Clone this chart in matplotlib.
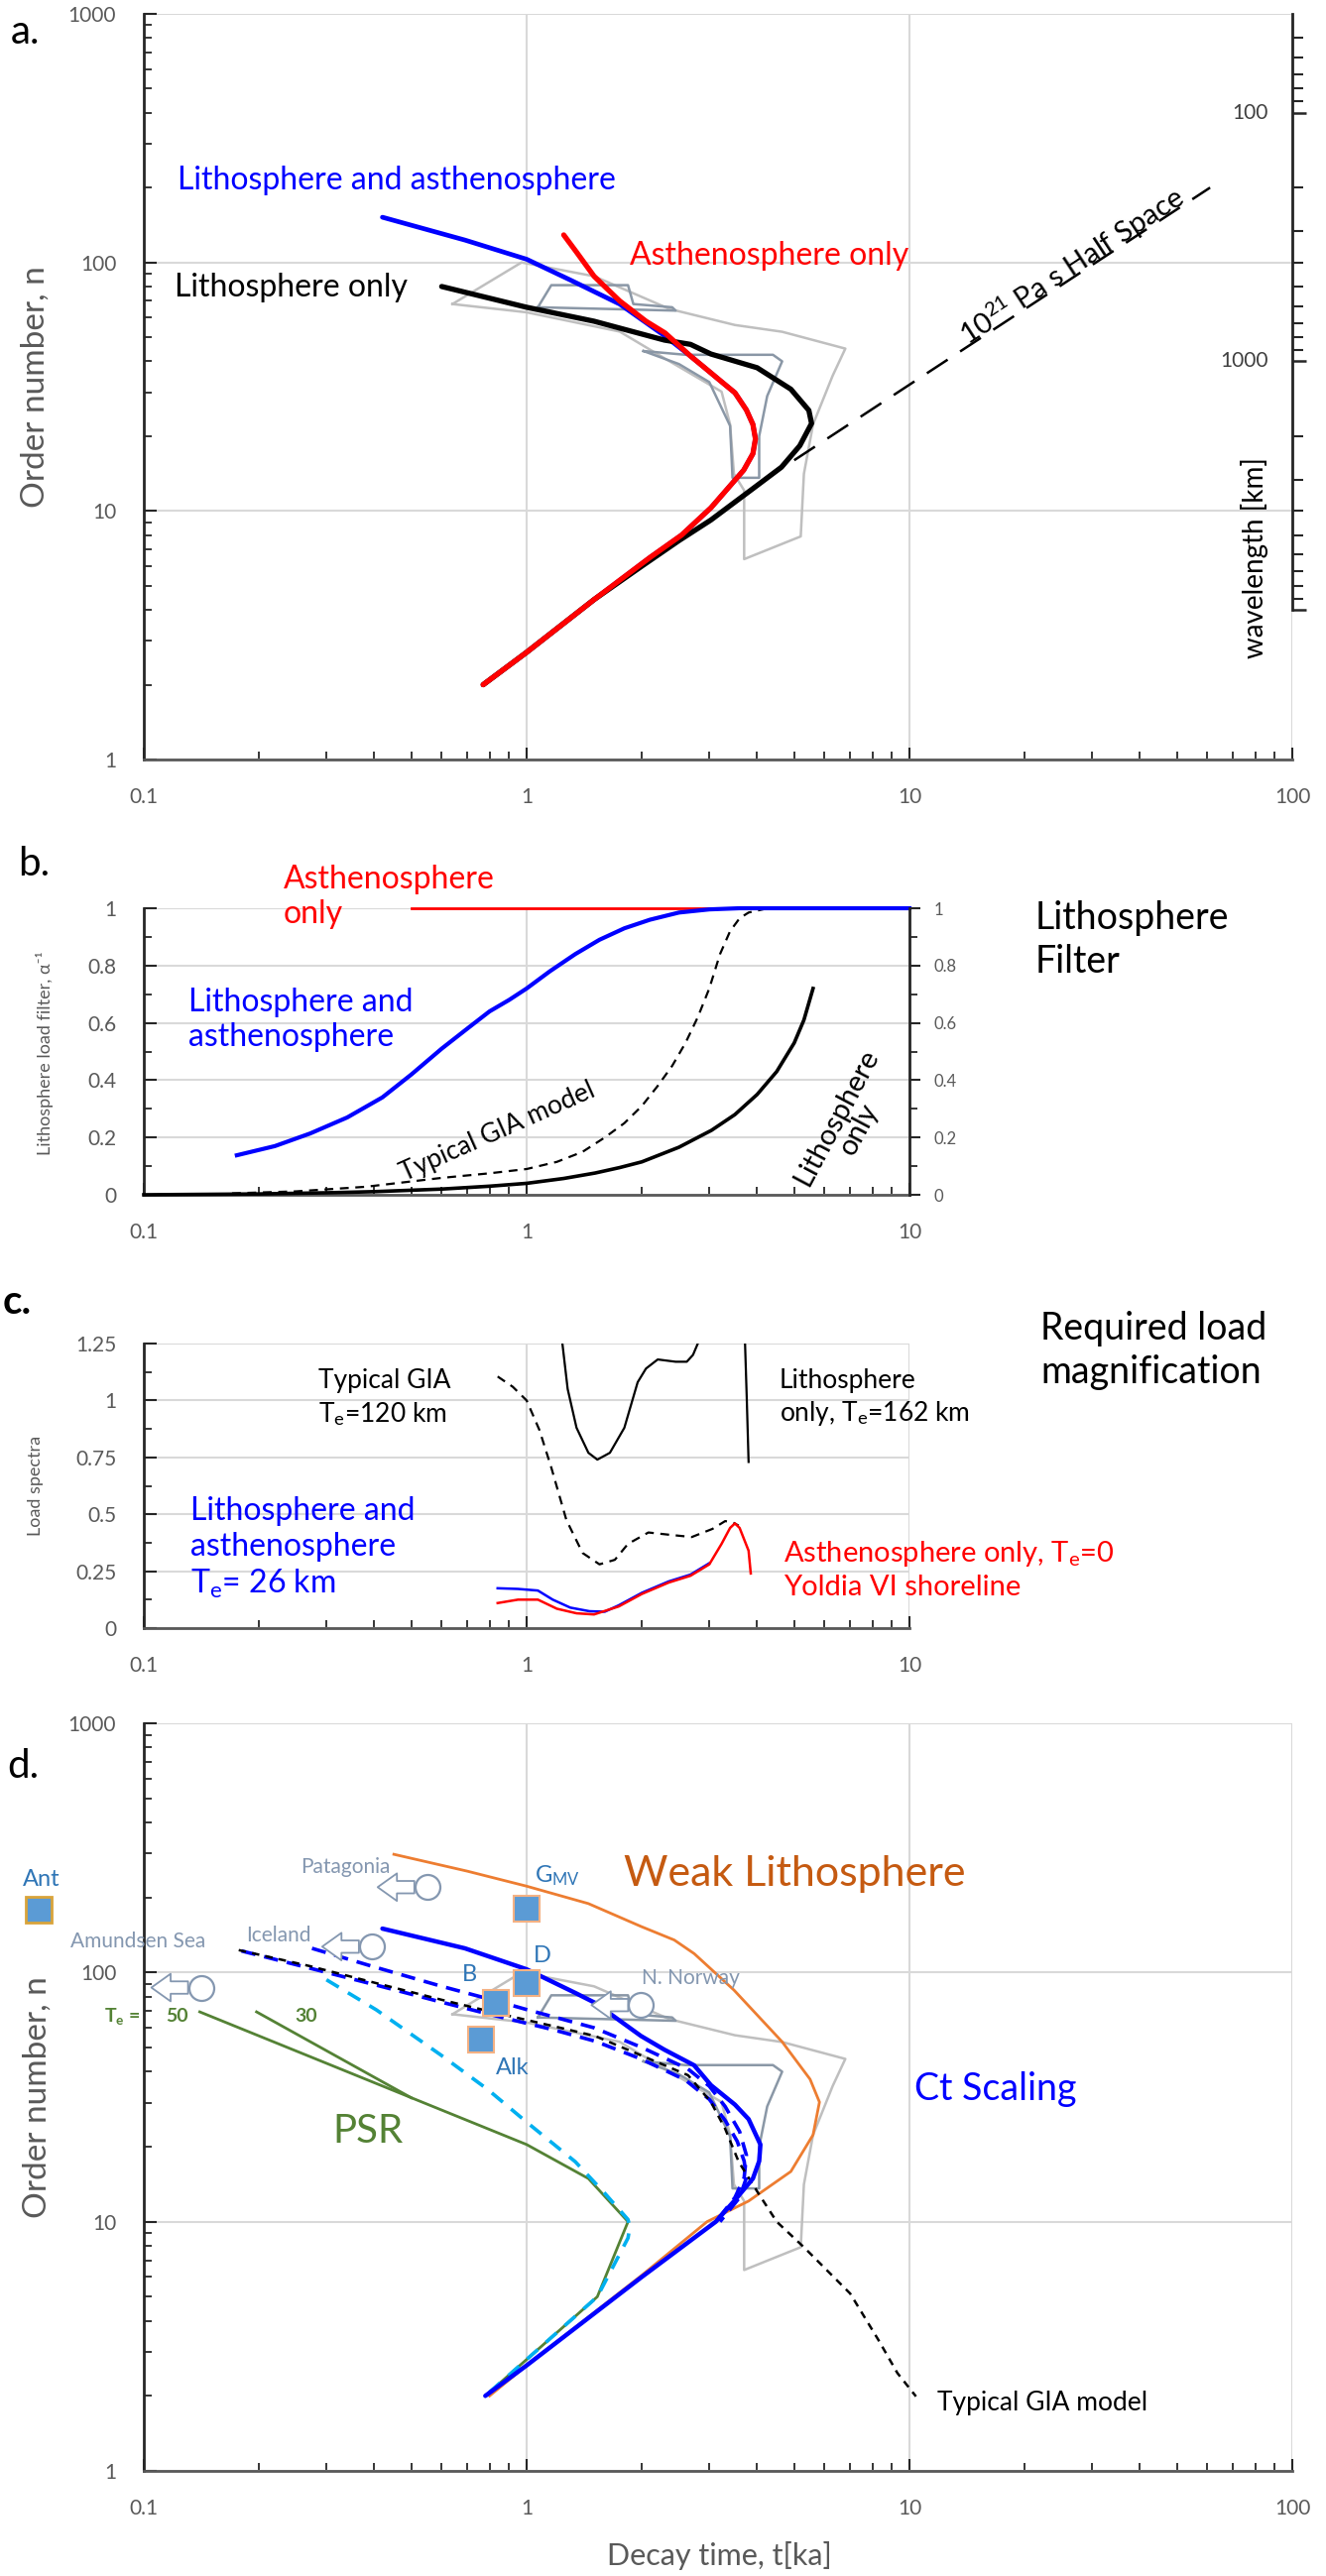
#!/usr/bin/env python3
import matplotlib
matplotlib.use('Agg')
import matplotlib.pyplot as plt
import matplotlib.ticker as mticker
from matplotlib.transforms import blended_transform_factory, offset_copy
import numpy as np

plt.rcParams['font.family'] = ['Lato', 'DejaVu Sans']
plt.rcParams['mathtext.fontset'] = 'custom'
plt.rcParams['mathtext.rm'] = 'Lato'
plt.rcParams['mathtext.it'] = 'Lato:italic'
plt.rcParams['mathtext.bf'] = 'Lato:bold'

BLUE = '#0000ff'
RED = '#ff0000'
LIGHT_GREY = '#bfbfbf'
DARK_GREY = '#8a97a6'
GRID = '#d9d9d9'
TICK_TXT = '#595959'
AXIS = '#262626'
ORANGE = '#ed7d31'
ORANGE_TXT = '#c55a11'
GREEN = '#548235'
CYAN = '#00b0f0'
SQ_FILL = '#5b9bd5'
SQ_EDGE = '#f4b183'
SITE_TXT = '#2e75b6'
OBS = '#8497b0'

EARTH_CIRC = 40030.0  # km, wavelength ~ circumference / n

# ---------------- data: panel a (decay time [ka] vs order number n)
env_light_t = [0.64, 0.97, 1.5, 2.36, 3.5, 4.65, 6.8, 6.3, 5.6, 5.3, 5.2, 3.7, 3.7, 3.48, 3.4, 3.23, 2.3, 1.75, 1.0, 0.64]
env_light_n = [68, 100, 88, 65, 56, 52.6, 45, 35, 22.3, 14.1, 7.9, 6.4, 12.1, 14.1, 22.3, 30.2, 41, 52.7, 63, 68]
env_dark1_t = [1.07, 1.16, 1.84, 1.9, 2.4, 2.45, 1.07]
env_dark1_n = [66, 81, 81, 68, 66, 64, 66]
env_dark2_t = [2.02, 2.6, 4.4, 4.65, 4.25, 4.05, 4.05, 3.45, 3.4, 3.0, 2.5, 2.02]
env_dark2_n = [44, 42.5, 42.5, 40, 29, 20, 13.6, 13.6, 22, 33, 39, 44]

la_a_t = [0.42, 0.69, 1.0, 1.3, 1.75, 2.28, 2.68, 2.9, 3.2, 3.5, 3.75, 3.9, 3.96, 3.9, 3.69, 3.35, 3.03, 2.54, 2.1, 1.5, 1.0, 0.77]
la_a_n = [152, 123, 103, 85, 68, 51, 42, 38, 33.5, 29.9, 25.5, 22.3, 19.5, 17, 14.6, 12.3, 10.3, 8.0, 6.5, 4.4, 2.7, 2.0]
asth_a_t = [1.25, 1.35, 1.5, 1.75, 2.05, 2.3, 2.68, 2.9, 3.2, 3.5, 3.75, 3.9, 3.96, 3.9, 3.69, 3.35, 3.03, 2.54, 2.1, 1.5, 1.0, 0.77]
asth_a_n = [129, 110, 88, 70, 58, 52, 42, 38, 33.5, 29.9, 25.5, 22.3, 19.5, 17, 14.6, 12.3, 10.3, 8.0, 6.5, 4.4, 2.7, 2.0]
litho_a_t = [0.6, 1.0, 1.5, 2.29, 2.68, 3.03, 4.0, 4.9, 5.46, 5.55, 5.17, 4.63, 3.9, 3.03, 2.5, 2.0, 1.5, 1.0, 0.77]
litho_a_n = [80, 66, 58, 48.7, 46.8, 42.8, 37.7, 30.9, 25.4, 22.5, 18.3, 15, 12.3, 9.2, 7.6, 6.0, 4.4, 2.7, 2.0]
half_space_t = [5.0, 61]
half_space_n = [16, 200]

wl_major = [100, 1000, 10000]
wl_minor = [40, 50, 60, 70, 80, 90, 200, 300, 400, 500, 600, 700, 800, 900,
            2000, 3000, 4000, 5000, 6000, 7000, 8000, 9000]
wl_labels = [100, 1000]

# ---------------- data: panel b (lithosphere load filter)
asth_b_t = [0.5, 10]
asth_b_a = [1.0, 1.0]
la_b_t = [0.175, 0.22, 0.272, 0.34, 0.42, 0.5, 0.6, 0.7, 0.8, 0.9, 1.0, 1.15, 1.34, 1.55, 1.8, 2.1, 2.5, 3.0, 3.6, 10]
la_b_a = [0.138, 0.17, 0.214, 0.27, 0.34, 0.42, 0.51, 0.58, 0.64, 0.68, 0.72, 0.78, 0.84, 0.89, 0.93, 0.96, 0.985, 0.996, 1.0, 1.0]
gia_b_t = [0.17, 0.25, 0.38, 0.6, 0.8, 1.0, 1.2, 1.4, 1.6, 1.8, 2.0, 2.2, 2.4, 2.6, 2.8, 3.0, 3.2, 3.4, 3.6, 3.8, 4.2, 4.6]
gia_b_a = [0.005, 0.012, 0.028, 0.059, 0.075, 0.09, 0.115, 0.15, 0.2, 0.25, 0.31, 0.38, 0.45, 0.53, 0.62, 0.72, 0.84, 0.92, 0.965, 0.985, 0.998, 1.0]
litho_b_t = [0.1, 0.2, 0.3, 0.4, 0.6, 0.8, 1.0, 1.25, 1.51, 1.75, 2.0, 2.5, 3.04, 3.5, 4.0, 4.5, 5.0, 5.3, 5.6]
litho_b_a = [0.0, 0.003, 0.007, 0.011, 0.02, 0.03, 0.04, 0.057, 0.076, 0.095, 0.115, 0.166, 0.225, 0.28, 0.35, 0.43, 0.53, 0.61, 0.72]

# ---------------- data: panel c (load spectra)
litho_c1_t = [1.24, 1.28, 1.35, 1.45, 1.53, 1.65, 1.8, 1.95, 2.05, 2.2, 2.45, 2.62, 2.72, 2.8]
litho_c1_s = [1.25, 1.05, 0.88, 0.77, 0.74, 0.77, 0.88, 1.08, 1.14, 1.18, 1.17, 1.17, 1.2, 1.25]
litho_c2_t = [3.72, 3.76, 3.8]
litho_c2_s = [1.25, 1.0, 0.73]
gia_c_t = [0.84, 0.92, 1.0, 1.08, 1.16, 1.27, 1.4, 1.55, 1.7, 1.84, 2.08, 2.36, 2.7, 3.06, 3.3, 3.45, 3.58]
gia_c_s = [1.105, 1.06, 1.0, 0.87, 0.705, 0.475, 0.33, 0.28, 0.30, 0.37, 0.42, 0.41, 0.40, 0.436, 0.47, 0.465, 0.45]
asth_c_t = [0.84, 0.95, 1.07, 1.2, 1.35, 1.5, 1.74, 2.0, 2.35, 2.68, 3.0, 3.23, 3.4, 3.5, 3.6, 3.8, 3.85]
asth_c_s = [0.11, 0.125, 0.125, 0.085, 0.065, 0.06, 0.095, 0.15, 0.2, 0.23, 0.28, 0.37, 0.44, 0.46, 0.44, 0.34, 0.24]
la_c_t = [0.84, 0.95, 1.07, 1.17, 1.3, 1.46, 1.6, 1.74, 2.0, 2.35, 2.68, 3.0]
la_c_s = [0.175, 0.172, 0.165, 0.125, 0.09, 0.074, 0.072, 0.1, 0.155, 0.205, 0.235, 0.285]

# ---------------- data: panel d
weak_t = [0.45, 0.7, 1.0, 1.45, 1.99, 2.43, 2.74, 3.48, 4.65, 5.5, 5.82, 5.6, 4.9, 3.8, 2.96, 2.0, 1.0, 0.8]
weak_n = [298, 255, 222, 189, 153, 135, 119, 85, 52.7, 37.3, 30.2, 22.3, 15.9, 12.1, 10, 6.1, 2.65, 2.0]
ct_t = [0.42, 0.69, 1.0, 1.34, 1.51, 1.99, 2.29, 2.74, 3.03, 3.5, 3.8, 4.08, 4.05, 3.9, 3.5, 3.12, 1.99, 1.0, 0.78]
ct_n = [150, 125, 103, 82.8, 75.5, 55.6, 49, 42.4, 35.3, 29.5, 25.8, 20.4, 17.5, 14.9, 12.2, 10, 5.97, 2.65, 2.0]
ct_dash1_t = [0.275, 0.394, 0.6, 0.83, 1.0, 1.5, 2.0, 2.64, 3.0, 3.3, 3.6, 3.75, 3.7, 3.5, 3.12]
ct_dash1_n = [125, 106, 88, 77, 71, 60, 50, 41, 35, 29, 23, 18.5, 15, 12.5, 10]
ct_dash2_t = [0.18, 0.272, 0.405, 0.6, 0.83, 1.17, 1.51, 1.99, 2.6, 3.0, 3.3, 3.55, 3.7, 3.75, 3.6, 3.2]
ct_dash2_n = [122, 104, 89, 76, 67, 59, 53, 45, 37, 31, 25.5, 21, 17.5, 15, 12.5, 10]
gia_d_t = [0.177, 0.272, 0.405, 0.6, 0.83, 1.17, 1.51, 1.99, 2.64, 3.03, 3.3, 3.58, 4.03, 4.5, 5.3, 7.0, 8.3, 9.3, 10.4]
gia_d_n = [123, 106, 90.6, 77.7, 68.9, 61, 55.6, 46.5, 38.7, 30.2, 23.6, 17.4, 13, 10, 7.9, 5.15, 3.35, 2.47, 1.99]
psr_cyan_t = [0.30, 0.405, 0.60, 0.79, 1.0, 1.34, 1.6, 1.84, 1.86, 1.84, 1.53, 1.0, 0.78]
psr_cyan_n = [93.5, 70.8, 46.4, 34, 25.1, 17.4, 13, 10.2, 9.5, 8.6, 5.0, 2.8, 2.0]
psr50_t = [0.14, 1.0, 1.45, 1.84, 1.53, 1.0, 0.78]
psr50_n = [69.5, 20.4, 14.9, 10, 5.0, 2.8, 2.0]
psr30_t = [0.197, 0.5]
psr30_n = [69.5, 31.4]

site_names = ['G$_\\mathrm{MV}$', 'D', 'B', 'Alk']
site_t = [1.0, 1.0, 0.83, 0.76]
site_n = [180, 90.6, 75.5, 53.8]
site_label_t = [1.2, 1.1, 0.71, 0.92]
site_label_n = [244, 117, 98, 41.6]
ant_t, ant_n = 0.053, 178
ant_label_t, ant_label_n = 0.054, 237

obs_names = ['Patagonia', 'Iceland', 'Amundsen Sea', 'N. Norway']
obs_t = [0.55, 0.394, 0.141, 1.99]
obs_n = [220, 127, 87, 74]
obs_label_t = [0.336, 0.225, 0.0965, 2.68]
obs_label_n = [265, 141, 133, 95]

# ---------------- figure layout (pixels of the 1337 x 2598 canvas)
W, H = 1337.0, 2598.0
fig = plt.figure(figsize=(W / 100, H / 100), dpi=100)


def px_rect(x0, y0, x1, y1):
    return [x0 / W, 1 - y1 / H, (x1 - x0) / W, (y1 - y0) / H]


def fig_text(x, y, s, **kw):
    return fig.text(x / W, 1 - y / H, s, **kw)


g = lambda v, p: f'{v:g}'


def base_axes(ax, xmax, ylim, log_y, ymajor=None, yminor=None):
    ax.set_xscale('log')
    ax.set_xlim(0.1, xmax)
    ax.xaxis.set_major_locator(mticker.LogLocator(base=10, numticks=10))
    ax.xaxis.set_minor_locator(mticker.LogLocator(base=10, subs=np.arange(2, 10), numticks=30))
    ax.xaxis.set_major_formatter(mticker.FuncFormatter(g))
    ax.xaxis.set_minor_formatter(mticker.NullFormatter())
    if log_y:
        ax.set_yscale('log')
        ax.yaxis.set_major_locator(mticker.LogLocator(base=10, numticks=10))
        ax.yaxis.set_minor_locator(mticker.LogLocator(base=10, subs=np.arange(2, 10), numticks=30))
        ax.yaxis.set_minor_formatter(mticker.NullFormatter())
    else:
        ax.yaxis.set_major_locator(mticker.MultipleLocator(ymajor))
        ax.yaxis.set_minor_locator(mticker.MultipleLocator(yminor))
    ax.yaxis.set_major_formatter(mticker.FuncFormatter(g))
    ax.set_ylim(*ylim)
    for s in ('top', 'right'):
        ax.spines[s].set_visible(False)
    ax.spines['left'].set_color(AXIS)
    ax.spines['left'].set_linewidth(2)
    ax.spines['bottom'].set_color('#595959')
    ax.spines['bottom'].set_linewidth(2)
    ax.tick_params(which='both', direction='in', colors=AXIS, labelcolor=TICK_TXT,
                   labelsize=15, pad=20, top=False, right=False)
    ax.tick_params(which='major', length=9, width=1.5)
    ax.tick_params(which='minor', length=6, width=1.3)
    ax.grid(True, which='major', color=GRID, lw=1.5)
    ax.set_axisbelow(True)


ax_a = fig.add_axes(px_rect(145, 14, 1303, 766))
ax_b = fig.add_axes(px_rect(145, 916, 917, 1205))
ax_c = fig.add_axes(px_rect(145, 1355, 917, 1642))
ax_d = fig.add_axes(px_rect(145, 1738, 1303, 2492))

# ================= panel a
ax = ax_a
base_axes(ax, 100, (1, 1000), True)
for t, n, c in ((env_light_t, env_light_n, LIGHT_GREY), (env_dark1_t, env_dark1_n, DARK_GREY),
                (env_dark2_t, env_dark2_n, DARK_GREY)):
    ax.plot(t, n, color=c, lw=1.8, zorder=2)
ax.plot(la_a_t, la_a_n, color=BLUE, lw=3.4, zorder=3, solid_capstyle='round')
ax.plot(litho_a_t, litho_a_n, color='black', lw=3.8, zorder=3, solid_capstyle='round')
ax.plot(asth_a_t, asth_a_n, color=RED, lw=3.8, zorder=4, solid_capstyle='round')
ax.plot(half_space_t, half_space_n, color='black', lw=1.8, ls=(0, (10, 6)), zorder=3)

p0, p1 = ax.transData.transform([(half_space_t[0], half_space_n[0]), (half_space_t[-1], half_space_n[-1])])
hs_angle = np.degrees(np.arctan2(p1[1] - p0[1], p1[0] - p0[0]))
ax.text(14.2, 46, '10$^{21}$ Pa s Half Space', rotation=hs_angle, rotation_mode='anchor',
        ha='left', va='baseline', fontsize=21, color='black')

ax.text(0.1225, 214, 'Lithosphere and asthenosphere', color=BLUE, fontsize=23, va='center')
ax.text(0.12, 79, 'Lithosphere only', color='black', fontsize=23, va='center')
ax.text(1.86, 106, 'Asthenosphere only', color=RED, fontsize=23, va='center')

# wavelength axis on the right
ax_w = ax_a.twinx()
ax_w.set_yscale('log')
ax_w.set_ylim(EARTH_CIRC / 1.0, EARTH_CIRC / 1000.0)
for s in ('top', 'bottom', 'left'):
    ax_w.spines[s].set_visible(False)
ax_w.spines['right'].set_bounds(EARTH_CIRC / 1000.0, wl_major[-1])
ax_w.spines['right'].set_linewidth(2)
ax_w.spines['right'].set_color(AXIS)
ax_w.yaxis.set_major_locator(mticker.FixedLocator(wl_major))
ax_w.yaxis.set_minor_locator(mticker.FixedLocator(wl_minor))
ax_w.yaxis.set_major_formatter(mticker.NullFormatter())
ax_w.yaxis.set_minor_formatter(mticker.NullFormatter())
ax_w.tick_params(axis='y', which='both', direction='out', right=True, left=False,
                 labelright=False, colors=AXIS)
ax_w.tick_params(axis='y', which='major', length=10, width=1.8)
ax_w.tick_params(axis='y', which='minor', length=8, width=1.5)
tr_w = blended_transform_factory(ax_w.transAxes, ax_w.transData)
for wl in wl_labels:
    ax_w.text(0.979, wl, f'{wl:g}', transform=tr_w, ha='right', va='center',
              fontsize=15, color='#404040')
ax_w.text(0.967, 6200, 'wavelength [km]', transform=tr_w, rotation=90, ha='center',
          va='center', fontsize=20, color='black')

# ================= panel b
ax = ax_b
base_axes(ax, 10, (0, 1), False, 0.2, 0.1)
ax.plot(asth_b_t, asth_b_a, color=RED, lw=2, zorder=3, clip_on=False)
ax.plot(gia_b_t, gia_b_a, color='black', lw=1.6, ls=(0, (4, 3)), zorder=3, clip_on=False)
ax.plot(litho_b_t, litho_b_a, color='black', lw=2.6, zorder=3, clip_on=False)
ax.plot(la_b_t, la_b_a, color=BLUE, lw=3, zorder=4, clip_on=False)
ax.text(0.232, 1.04, 'Asthenosphere\nonly', color=RED, fontsize=23, va='center', linespacing=1.2)
ax.text(0.131, 0.61, 'Lithosphere and\nasthenosphere', color=BLUE, fontsize=23, va='center',
        linespacing=1.2)
ax.text(0.84, 0.22, 'Typical GIA model', rotation=24, ha='center', va='center', fontsize=19)
ax.text(6.9, 0.25, 'Lithosphere\nonly', rotation=62, ha='center', va='center', fontsize=21,
        linespacing=1.0)

ax_b2 = ax_b.twinx()
ax_b2.set_ylim(0, 1)
for s in ('top', 'bottom', 'left'):
    ax_b2.spines[s].set_visible(False)
ax_b2.spines['right'].set_linewidth(2)
ax_b2.spines['right'].set_color(AXIS)
ax_b2.yaxis.set_major_locator(mticker.MultipleLocator(0.2))
ax_b2.yaxis.set_minor_locator(mticker.MultipleLocator(0.1))
ax_b2.yaxis.set_major_formatter(mticker.FuncFormatter(g))
ax_b2.tick_params(axis='y', which='both', direction='out', colors=AXIS, labelcolor=TICK_TXT,
                  labelsize=12, pad=10)
ax_b2.tick_params(axis='y', which='major', length=8, width=1.5)
ax_b2.tick_params(axis='y', which='minor', length=6, width=1.3)

# ================= panel c
ax = ax_c
base_axes(ax, 10, (0, 1.25), False, 0.25, 0.125)
ax.plot(gia_c_t, gia_c_s, color='black', lw=1.6, ls=(0, (4, 3)), zorder=3)
ax.plot(litho_c1_t, litho_c1_s, color='black', lw=1.6, zorder=3)
ax.plot(litho_c2_t, litho_c2_s, color='black', lw=1.6, zorder=3)
ax.plot(la_c_t, la_c_s, color=BLUE, lw=1.8, zorder=3)
ax.plot(asth_c_t, asth_c_s, color=RED, lw=1.8, zorder=4)
ax.text(0.286, 1.01, 'Typical GIA\nT$_\\mathrm{e}$=120 km', fontsize=19, va='center',
        linespacing=1.3)
ax.text(4.58, 1.01, 'Lithosphere\nonly, T$_\\mathrm{e}$=162 km', fontsize=19, va='center',
        linespacing=1.3)
ax.text(0.132, 0.35, 'Lithosphere and\nasthenosphere\nT$_\\mathrm{e}$= 26 km', color=BLUE,
        fontsize=23, va='center', linespacing=1.25)
ax.text(4.69, 0.257, 'Asthenosphere only, T$_\\mathrm{e}$=0\nYoldia VI shoreline', color=RED,
        fontsize=21, va='center', linespacing=1.3)

# ================= panel d
ax = ax_d
base_axes(ax, 100, (1, 1000), True)
for t, n, c in ((env_light_t, env_light_n, LIGHT_GREY), (env_dark1_t, env_dark1_n, DARK_GREY),
                (env_dark2_t, env_dark2_n, DARK_GREY)):
    ax.plot(t, n, color=c, lw=1.8, zorder=2)
ax.plot(psr50_t, psr50_n, color=GREEN, lw=2, zorder=3)
ax.plot(psr30_t, psr30_n, color=GREEN, lw=2, zorder=3)
ax.plot(psr_cyan_t, psr_cyan_n, color=CYAN, lw=2.6, ls=(0, (4, 3)), zorder=3)
ax.plot(weak_t, weak_n, color=ORANGE, lw=2, zorder=3)
ax.plot(ct_dash1_t, ct_dash1_n, color=BLUE, lw=2.6, ls=(0, (4, 2.5)), zorder=3)
ax.plot(ct_dash2_t, ct_dash2_n, color=BLUE, lw=2.6, ls=(0, (4, 2.5)), zorder=3)
ax.plot(gia_d_t, gia_d_n, color='black', lw=1.8, ls=(0, (3, 2.5)), zorder=4)
ax.plot(ct_t, ct_n, color=BLUE, lw=3.2, zorder=4, solid_capstyle='round')

for name, t, n, lt, ln in zip(obs_names, obs_t, obs_n, obs_label_t, obs_label_n):
    tip = offset_copy(ax.transData, fig=fig, x=-50, y=0, units='dots')
    tail = offset_copy(ax.transData, fig=fig, x=-13, y=0, units='dots')
    ax.annotate('', xy=(t, n), xycoords=tip, xytext=(t, n), textcoords=tail,
                arrowprops=dict(arrowstyle='simple,head_length=0.7,head_width=1.0,tail_width=0.45',
                                fc='white', ec=OBS, lw=1.3, mutation_scale=20,
                                shrinkA=0, shrinkB=0), zorder=5)
    ax.plot(t, n, 'o', ms=18, mfc='white', mec=OBS, mew=1.6, zorder=5, clip_on=False)
    ax.text(lt, ln, name, color=OBS, fontsize=15, ha='center', va='center')

ax.plot(site_t, site_n, 's', ms=19, mfc=SQ_FILL, mec=SQ_EDGE, mew=1.5, ls='none', zorder=6)
for name, lt, ln in zip(site_names, site_label_t, site_label_n):
    ax.text(lt, ln, name, color=SITE_TXT, fontsize=17, ha='center', va='center')
ax.plot(ant_t, ant_n, 's', ms=19, mfc=SQ_FILL, mec='#d9a43a', mew=2, zorder=6, clip_on=False)
ax.text(ant_label_t, ant_label_n, 'Ant', color=SITE_TXT, fontsize=17, ha='center', va='center')

ax.text(0.0877, 67, '$\\mathbf{T}_\\mathbf{e}$ =', color=GREEN, fontsize=14, fontweight='bold',
        ha='center', va='center')
ax.text(0.122, 67, '50', color=GREEN, fontsize=14, fontweight='bold', ha='center', va='center')
ax.text(0.265, 67, '30', color=GREEN, fontsize=14, fontweight='bold', ha='center', va='center')
ax.text(0.384, 23.1, 'PSR', color=GREEN, fontsize=29, ha='center', va='center')
ax.text(1.79, 248, 'Weak Lithosphere', color=ORANGE_TXT, fontsize=31, va='center')
ax.text(10.3, 34, 'Ct Scaling', color=BLUE, fontsize=27, va='center')
ax.text(11.8, 1.88, 'Typical GIA model', color='black', fontsize=19, va='center')

# ================= labels outside the axes
fig_text(11, 44, 'a.', fontsize=29, va='baseline')
fig_text(18, 883, 'b.', fontsize=29, va='baseline')
fig_text(3, 1325, 'c.', fontsize=29, va='baseline', fontweight='bold')
fig_text(7, 1793, 'd.', fontsize=29, va='baseline')

fig_text(36, 390, 'Order number, n', rotation=90, ha='center', va='center', fontsize=24, color=TICK_TXT)
fig_text(45, 1062, 'Lithosphere load filter, α⁻¹', rotation=90, ha='center', va='center',
         fontsize=13, color=TICK_TXT)
fig_text(36, 1498, 'Load spectra', rotation=90, ha='center', va='center', fontsize=13, color=TICK_TXT)
fig_text(38, 2115, 'Order number, n', rotation=90, ha='center', va='center', fontsize=24, color=TICK_TXT)
fig_text(725, 2577, 'Decay time, t[ka]', ha='center', va='center', fontsize=22, color=TICK_TXT)

fig_text(1044, 948, 'Lithosphere\nFilter', fontsize=27, va='center', linespacing=1.3)
fig_text(1049, 1362, 'Required load\nmagnification', fontsize=27, va='center', linespacing=1.3)

fig.savefig('out.png', dpi=100)
